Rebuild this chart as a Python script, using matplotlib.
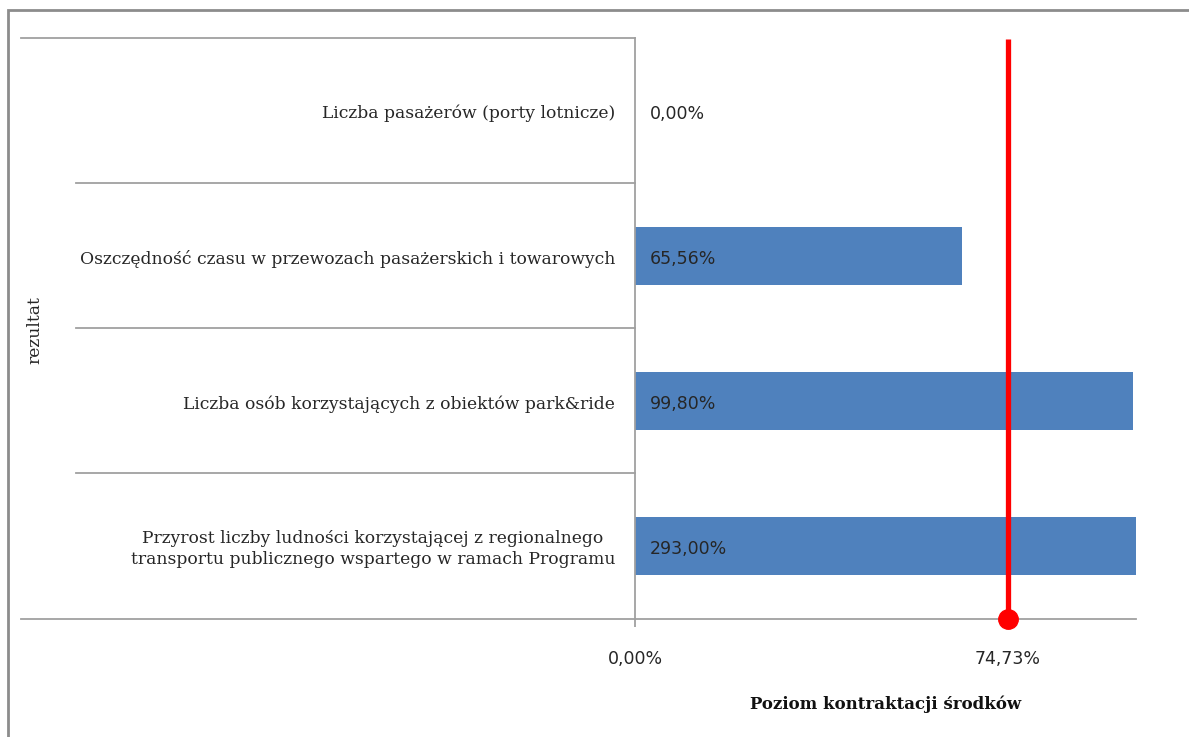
import matplotlib
matplotlib.use("Agg")
import matplotlib.pyplot as plt
from matplotlib.lines import Line2D
from matplotlib.patches import Rectangle

categories = [
    "Liczba pasażerów (porty lotnicze)",
    "Oszczędność czasu w przewozach pasażerskich i towarowych",
    "Liczba osób korzystających z obiektów park&ride",
    "Przyrost liczby ludności korzystającej z regionalnego\ntransportu publicznego wspartego w ramach Programu",
]
values = [0.00, 65.56, 99.80, 293.00]
value_labels = ["0,00%", "65,56%", "99,80%", "293,00%"]
contract_level = 74.73
tick_values = [0.0, contract_level]
tick_labels = ["0,00%", "74,73%"]

W, H = 1189, 737
fig = plt.figure(figsize=(W / 100, H / 100), dpi=100)

def fx(px):
    return px / W

def fy(py):
    return 1 - py / H

ax_left, ax_right, ax_top, ax_bot = 635, 1136, 38, 619
ax = fig.add_axes([fx(ax_left), fy(ax_bot), fx(ax_right - ax_left), (ax_bot - ax_top) / H])

n = len(categories)
ypos = list(range(n))
ax.barh(ypos, values, height=0.4, color="#4f81bd", zorder=2)
ax.set_ylim(n - 0.5, -0.5)
ax.set_xlim(0, 100.4)

serif = ["DejaVu Serif"]
sans = ["DejaVu Sans"]
txt_col = "#262626"

for y, lab in zip(ypos, value_labels):
    ax.text(3.0, y + 0.02, lab, ha="left", va="center", fontsize=12.5, family=sans, color=txt_col, zorder=4)

for y, cat in zip(ypos, categories):
    ax.text(-4.0, y + 0.02, cat, ha="right", va="center", multialignment="center",
            fontsize=12.3, family=serif, color=txt_col, clip_on=False, linespacing=1.3)

# red contraction level line
ax.plot([contract_level, contract_level], [-0.5 + 0.01, n - 0.5], color="#ff0000", lw=3.8, zorder=3,
        solid_capstyle="butt")
ax.plot([contract_level], [n - 0.5], "o", color="#ff0000", ms=14, clip_on=False, zorder=5)

for s in ["top", "right"]:
    ax.spines[s].set_visible(False)
for s in ["left", "bottom"]:
    ax.spines[s].set_color("#a0a0a0")
    ax.spines[s].set_linewidth(1.3)
ax.set_yticks([])
ax.set_xticks(tick_values)
ax.set_xticklabels(tick_labels, family=sans, fontsize=12.5, color=txt_col)
ax.tick_params(axis="x", direction="out", length=6, color="#a0a0a0", width=1.3, pad=16)

ax.set_xlabel("Poziom kontraktacji środków", family=serif, fontsize=12, fontweight="bold",
              labelpad=20, color="#111111")

# category separator lines to the left
sep_y = [38, 183, 328, 473, 619]
sep_x0 = [21, 76, 76, 76, 21]
for y, x0 in zip(sep_y, sep_x0):
    fig.add_artist(Line2D([fx(x0), fx(ax_left)], [fy(y), fy(y)], color="#a0a0a0", lw=1.3))

fig.text(fx(35), fy(330), "rezultat", rotation=90, ha="center", va="center",
         family=serif, fontsize=12.3, color=txt_col)

# outer border
fig.add_artist(Rectangle((fx(8), fy(760)), fx(1200), (760 - 10) / H, fill=False,
                         edgecolor="#8c8c8c", lw=2, transform=fig.transFigure))

fig.savefig("out.png", dpi=100)
